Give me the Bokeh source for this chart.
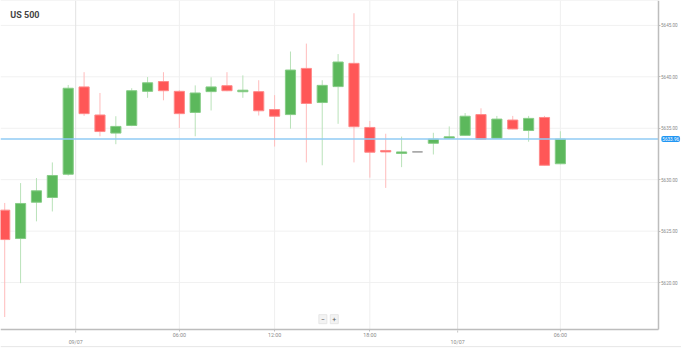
from bokeh.plotting import figure
from bokeh.models import (FixedTicker, NumeralTickFormatter, Span, Label,
                          ColumnDataSource, Range1d)
from bokeh.embed import file_html
from bokeh.resources import INLINE

# ---- data (hourly candles) ----
opens = [5627.04, 5624.28, 5627.81, 5628.27, 5630.53, 5639.02, 5636.29, 5634.53,
         5635.27, 5638.59, 5639.54, 5638.59, 5636.54, 5638.56, 5639.14, 5638.55,
         5638.56, 5636.82, 5636.33, 5640.82, 5637.50, 5639.05, 5641.31, 5635.08,
         5632.84, 5632.55, 5632.70, 5633.54, 5634.03, 5634.31, 5636.33, 5634.03,
         5635.80, 5634.78, 5636.05, 5631.55]
highs = [5627.74, 5629.67, 5630.16, 5631.68, 5639.21, 5640.45, 5638.43, 5636.17,
         5638.89, 5639.98, 5640.45, 5638.70, 5639.17, 5639.95, 5640.45, 5640.14,
         5639.67, 5638.22, 5642.46, 5643.23, 5639.67, 5642.21, 5646.18, 5635.71,
         5634.47, 5634.19, 5632.70, 5634.56, 5635.18, 5636.48, 5636.94, 5636.20,
         5636.20, 5636.20, 5636.20, 5634.71]
lows = [5616.65, 5619.94, 5625.95, 5626.91, 5630.40, 5636.20, 5634.22, 5633.45,
        5635.20, 5637.96, 5637.72, 5635.03, 5634.22, 5636.73, 5638.60, 5637.96,
        5636.24, 5633.22, 5634.96, 5631.68, 5631.40, 5635.43, 5631.68, 5630.20,
        5629.20, 5631.22, 5632.70, 5632.45, 5634.00, 5634.30, 5633.90, 5634.00,
        5634.90, 5633.69, 5631.40, 5631.50]
closes = [5624.18, 5627.69, 5628.92, 5630.41, 5638.89, 5636.42, 5634.68, 5635.18,
          5638.65, 5639.42, 5638.65, 5636.42, 5638.43, 5639.02, 5638.65, 5638.70,
          5636.70, 5636.17, 5640.66, 5637.41, 5639.17, 5641.44, 5635.15, 5632.67,
          5632.70, 5632.70, 5632.70, 5633.94, 5634.17, 5636.17, 5633.94, 5635.89,
          5634.93, 5635.96, 5631.40, 5633.94]
current_price = 5633.96

time_tick_pos = [11, 17, 23, 35]
time_tick_labels = ["06:00", "12:00", "18:00", "06:00"]
date_tick_pos = [4.47, 28.53]
date_tick_labels = ["09/07", "10/07"]
y_ticks = [5620, 5625, 5630, 5635, 5640, 5645]
title_text = "US 500"

# plotting window (candle area) and full canvas extent, in data units
X_LO, X_HI, X_CANVAS = -0.265, 41.15, 42.63
Y_LO, Y_HI, Y_CANVAS = 5615.45, 5647.42, 5613.59

# ---- derived ----
idx = list(range(len(opens)))
UP, DOWN, FLAT = "#5cb85c", "#ff5757", "#9a9a9a"
UPW, DOWNW, FLATW = "#b9e2b9", "#ffbcbc", "#9a9a9a"
UPL, DOWNL, FLATL = "#86cc86", "#ff8a8a", "#9a9a9a"
body_col, wick_col, edge_col = [], [], []
for o, c in zip(opens, closes):
    if c > o:
        body_col.append(UP); wick_col.append(UPW); edge_col.append(UPL)
    elif c < o:
        body_col.append(DOWN); wick_col.append(DOWNW); edge_col.append(DOWNL)
    else:
        body_col.append(FLAT); wick_col.append(FLATW); edge_col.append(FLATL)

src = ColumnDataSource(dict(
    x=idx, high=highs, low=lows,
    top=[max(o, c) for o, c in zip(opens, closes)],
    bottom=[min(o, c) for o, c in zip(opens, closes)],
    body=body_col, wick=wick_col, edge=edge_col))

p = figure(width=681, height=348, output_backend="svg", toolbar_location=None,
           x_range=Range1d(X_LO, X_CANVAS), y_range=Range1d(Y_CANVAS, Y_HI),
           y_axis_location="right", x_axis_location="below",
           min_border_left=0, min_border_top=0, min_border_right=0,
           min_border_bottom=0)
p.background_fill_color = "white"
p.border_fill_color = "white"
p.outline_line_color = None
p.grid.visible = False

# grid lines limited to the candle area
p.segment(x0=X_LO, x1=X_HI, y0=y_ticks, y1=y_ticks, line_color="#f1f1f1",
          line_width=1)
p.segment(x0=time_tick_pos, x1=time_tick_pos, y0=Y_LO, y1=Y_HI,
          line_color="#efefef", line_width=1)
p.segment(x0=date_tick_pos, x1=date_tick_pos, y0=Y_LO, y1=Y_HI,
          line_color="#e2e2e2", line_width=1)
p.segment(x0=X_LO, x1=X_HI, y0=Y_HI, y1=Y_HI, line_color="#ececec",
          line_width=1)
p.add_layout(Span(location=5613.77, dimension="width", line_color="#e6e6e6",
                  line_width=1))

# axes drawn at fixed positions inside the canvas
yax = p.yaxis[0]
yax.fixed_location = X_HI
yax.bounds = (Y_LO, Y_HI)
yax.ticker = FixedTicker(ticks=y_ticks)
yax.formatter = NumeralTickFormatter(format="0.00")
yax.major_label_text_font = "Roboto"
yax.major_label_text_font_size = "4.6px"
yax.major_label_text_color = "#8a8a8a"
yax.axis_line_color = "#bdbdbd"
yax.axis_line_width = 1.5
yax.major_tick_line_color = "#bdbdbd"
yax.major_tick_out = 2
yax.major_tick_in = 0
yax.minor_tick_line_color = None
yax.major_label_standoff = 1

xax = p.xaxis[0]
xax.fixed_location = Y_LO
xax.bounds = (X_LO, X_HI)
xax.ticker = FixedTicker(ticks=time_tick_pos)
xax.major_label_overrides = {t: l for t, l in zip(time_tick_pos, time_tick_labels)}
xax.major_label_text_font = "Roboto"
xax.major_label_text_font_size = "5.3px"
xax.major_label_text_color = "#8a8a8a"
xax.axis_line_color = "#bdbdbd"
xax.axis_line_width = 1.5
xax.major_tick_line_color = "#bdbdbd"
xax.major_tick_out = 2
xax.major_tick_in = 0
xax.minor_tick_line_color = None
xax.major_label_standoff = 1

# date labels with their dotted ticks
p.segment(x0=date_tick_pos, x1=date_tick_pos, y0=Y_LO, y1=Y_LO - 0.3,
          line_color="#aaaaaa", line_width=1, line_dash="1 1")
for d, t in zip(date_tick_pos, date_tick_labels):
    p.add_layout(Label(x=d, y=5614.27, text=t, text_font="Roboto",
                       text_font_size="5.3px", text_color="#8a8a8a",
                       text_align="center", text_baseline="middle"))

# candles
p.segment(x0="x", y0="low", x1="x", y1="high", source=src,
          line_color="wick", line_width=1)
p.vbar(x="x", top="top", bottom="bottom", width=0.64, source=src,
       fill_color="body", line_color="edge", line_width=1)

# current price line and tag
p.segment(x0=X_LO, x1=X_HI, y0=current_price, y1=current_price,
          line_color="#90cbf5", line_width=1.5)
p.add_layout(Label(x=41.36, y=current_price,
                   text=f"{current_price:.2f}",
                   text_font="Roboto", text_font_size="4.6px",
                   text_color="white", text_baseline="middle",
                   background_fill_color="#2196f3", padding=1,
                   border_radius=2))

# title
p.add_layout(Label(x=0.35, y=5646.0, text=title_text,
                   text_font="Roboto", text_font_style="bold",
                   text_font_size="9px", text_color="#444444",
                   text_baseline="alphabetic"))

# zoom buttons
for xb, t in [(20.04, "\u2212"), (20.76, "+")]:
    p.add_layout(Label(x=xb, y=5616.44, text=t, text_font="Roboto",
                       text_font_size="7px", text_color="#555555",
                       text_align="center", text_baseline="middle",
                       background_fill_color="#f3f3f3",
                       border_line_color="#e6e6e6", padding=2))

open("out.html", "w").write(file_html(p, INLINE))
